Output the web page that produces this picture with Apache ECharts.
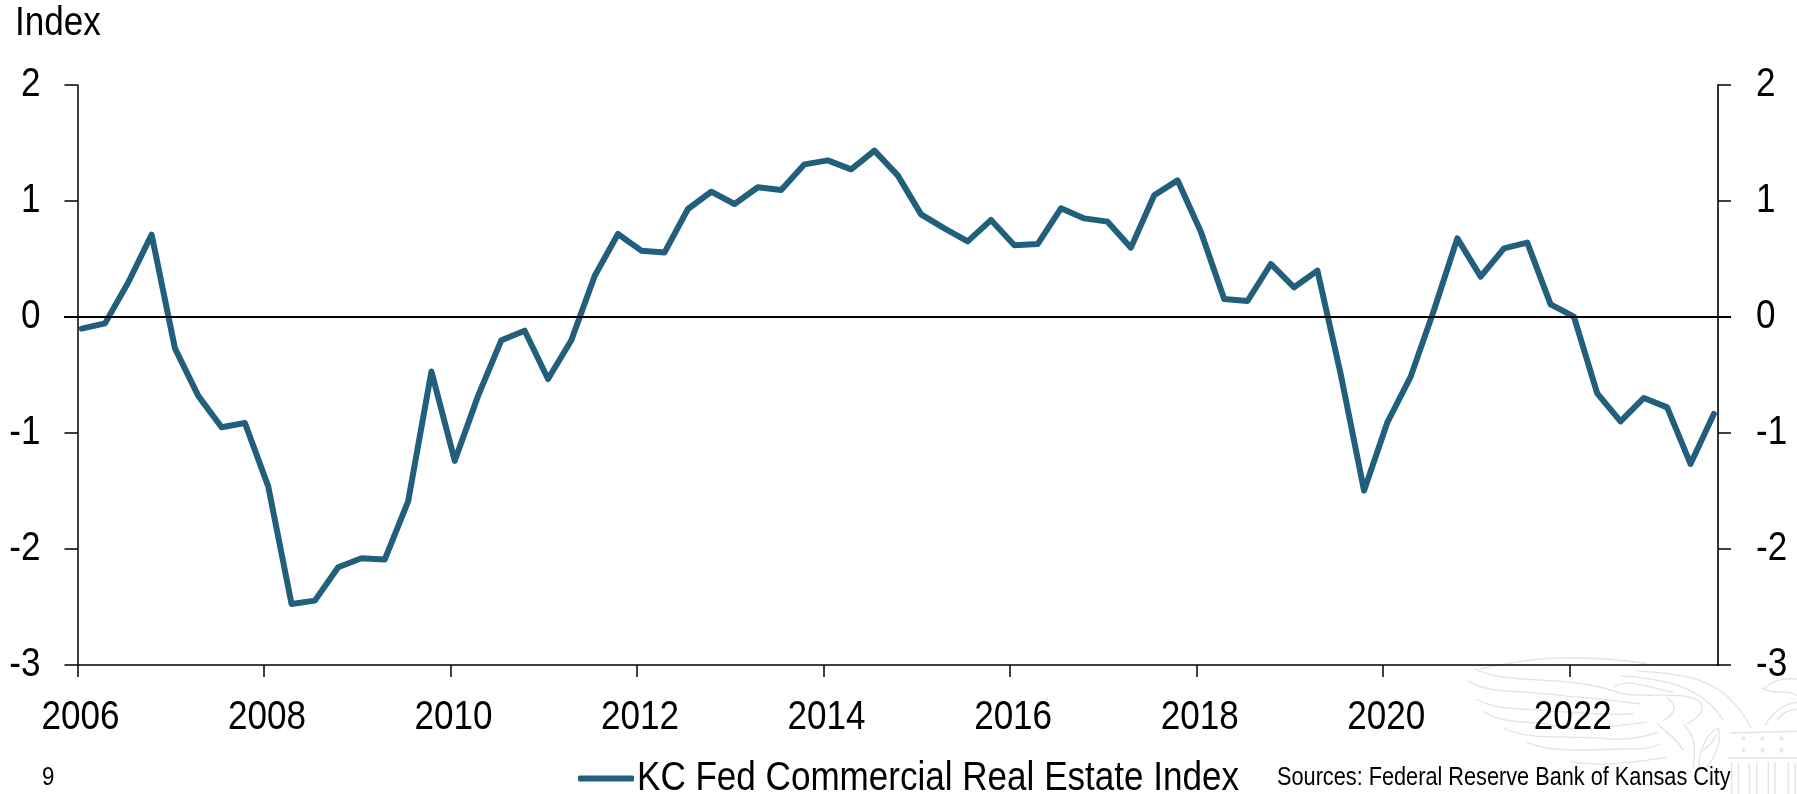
<!DOCTYPE html>
<html>
<head>
<meta charset="utf-8">
<style>html,body{margin:0;padding:0;background:#fff}#chart{width:1797px;height:794px}</style>
<script src="https://cdn.jsdelivr.net/npm/echarts@6/dist/echarts.min.js"></script>
</head>
<body>
<div id="chart"></div>
<script>
// Quarterly readings of the index, first quarter of 2006 onward
const startYear = 2006;
const indexValues = [
  -0.10, -0.055, 0.30, 0.71, -0.27, -0.68, -0.95, -0.914,
  -1.46, -2.474, -2.445, -2.158, -2.08, -2.09, -1.59, -0.47,
  -1.24, -0.68, -0.20, -0.118, -0.535, -0.20, 0.353, 0.716,
  0.572, 0.557, 0.931, 1.08, 0.974, 1.118, 1.095, 1.316,
  1.35, 1.273, 1.434, 1.221, 0.885, 0.764, 0.652, 0.836,
  0.618, 0.629, 0.937, 0.85, 0.822, 0.598, 1.049, 1.178,
  0.735, 0.155, 0.138, 0.457, 0.256, 0.40, -0.495, -1.497,
  -0.908, -0.514, 0.06, 0.678, 0.348, 0.592, 0.641, 0.109,
  0.003, -0.658, -0.90, -0.698, -0.779, -1.267, -0.836
];
const yearTicks = [2006, 2008, 2010, 2012, 2014, 2016, 2018, 2020, 2022];
const seriesName = 'KC Fed Commercial Real Estate Index';
const unitLabel = 'Index';
const sourceNote = 'Sources: Federal Reserve Bank of Kansas City';
const pageNumber = '9';

const font = '"Liberation Sans",Arial,sans-serif';
const ink = '#000';
const teal = '#215f7c';
// Horizontal squeeze that gives the sans face its condensed proportions
const textSqueeze = 0.855;

// Each reading sits about two weeks into its quarter on the year scale
const points = indexValues.map((v, i) => [startYear + i * 0.25 + 0.045, v]);

const yAxisBase = {
  type: 'value', min: -3, max: 2, interval: 1, splitLine: {show: false},
  axisLine: {show: true, onZero: false, lineStyle: {color: ink, width: 1.5}},
  axisTick: {show: true, length: 13, lineStyle: {color: ink, width: 1.5}}
};

// Faint engraved eagle and building in the lower right corner.
// Curves are [x1, y1, cpx1, cpy1, cpx2, cpy2, x2, y2] in the seal's own units.
const sealCurves = [
  [60, 45, 150, 25, 260, 10, 340, 12], [340, 12, 420, 12, 500, 20, 560, 28],
  [45, 45, 120, 85, 250, 70, 370, 90], [370, 90, 410, 95, 440, 105, 480, 115],
  [25, 80, 90, 125, 200, 105, 330, 128], [330, 128, 400, 130, 470, 140, 540, 150],
  [50, 135, 120, 175, 200, 160, 280, 172], [280, 172, 360, 175, 430, 185, 520, 180],
  [70, 172, 130, 210, 190, 200, 260, 210], [260, 210, 350, 240, 450, 215, 560, 205],
  [130, 222, 220, 265, 330, 240, 450, 255], [450, 255, 500, 258, 550, 250, 595, 235],
  [200, 265, 280, 300, 400, 285, 500, 285], [500, 285, 540, 285, 570, 285, 600, 270],
  [330, 322, 420, 340, 520, 325, 620, 310],
  [530, 50, 680, 62, 800, 70, 872, 222],
  [480, 65, 620, 75, 730, 100, 790, 200],
  [460, 100, 500, 70, 560, 100, 640, 115], [470, 115, 530, 130, 590, 120, 650, 125],
  [640, 125, 730, 120, 760, 170, 680, 210], [620, 130, 660, 160, 640, 180, 610, 200],
  [590, 205, 620, 240, 650, 250, 670, 290], [670, 210, 700, 240, 710, 270, 700, 340],
  [715, 340, 720, 290, 735, 240, 775, 222], [740, 340, 770, 300, 785, 260, 775, 222],
  [725, 290, 745, 280, 760, 265, 770, 240],
  [910, 110, 930, 80, 970, 70, 1011, 75], [905, 100, 950, 130, 980, 100, 1011, 125],
  [915, 215, 940, 170, 970, 150, 1011, 145], [950, 200, 970, 170, 990, 170, 1011, 165]
];
const sealRules = [
  [810, 237, 1011, 232], [805, 312, 1011, 312],
  [815, 325, 815, 420], [835, 325, 835, 420], [868, 325, 868, 420], [890, 325, 890, 420],
  [925, 325, 925, 420], [945, 325, 945, 420], [985, 325, 985, 420], [1005, 325, 1005, 420]
];
const sealStars = [[852, 258], [908, 258], [966, 258], [852, 293], [908, 293], [966, 293]];
const sealStroke = {stroke: '#e3e3e3', fill: null, lineWidth: 4};
const sealGroup = {
  type: 'group', x: 1460, y: 654, scaleX: 1 / 3, scaleY: 1 / 3, silent: true, z: -1,
  children: [
    ...sealCurves.map(c => ({
      type: 'bezierCurve', silent: true, style: sealStroke,
      shape: {x1: c[0], y1: c[1], cpx1: c[2], cpy1: c[3], cpx2: c[4], cpy2: c[5], x2: c[6], y2: c[7]}
    })),
    ...sealRules.map(r => ({
      type: 'line', silent: true, style: sealStroke,
      shape: {x1: r[0], y1: r[1], x2: r[2], y2: r[3]}
    })),
    ...sealStars.map(s => ({
      type: 'text', name: 'sealStar', silent: true, x: s[0] - 12, y: s[1] - 14,
      style: {text: '\u2605', fill: '#e3e3e3', font: '24px "DejaVu Sans"'}
    }))
  ]
};

const chart = echarts.init(document.getElementById('chart'));
chart.setOption({
  animation: false,
  backgroundColor: '#fff',
  textStyle: {fontFamily: font},
  grid: {left: 77.5, right: 79, top: 85, bottom: 129, containLabel: false},
  xAxis: {
    type: 'value', min: 2006, max: 2023.59, interval: 2,
    splitLine: {show: false},
    axisLine: {show: true, onZero: false, lineStyle: {color: ink, width: 1.5}},
    axisTick: {show: true, length: 12, customValues: yearTicks, lineStyle: {color: ink, width: 1.5}},
    axisLabel: {
      color: ink, fontSize: 41, fontFamily: font, margin: 32, padding: [0, 0, 0, 7],
      customValues: yearTicks, formatter: v => String(v)
    }
  },
  yAxis: [
    Object.assign({}, yAxisBase, {
      position: 'left',
      axisLabel: {color: ink, fontSize: 41, fontFamily: font, margin: 37}
    }),
    Object.assign({}, yAxisBase, {
      position: 'right',
      axisLine: {show: true, onZero: false, lineStyle: {color: '#333', width: 2}},
      axisLabel: {color: ink, fontSize: 41, fontFamily: font, margin: 38, align: 'left'}
    })
  ],
  legend: {
    show: true, left: 578, top: 758, padding: 0,
    itemWidth: 56, itemHeight: 6, itemGap: 0,
    data: [{name: seriesName, icon: 'roundRect'}],
    textStyle: {color: ink, fontSize: 41, fontFamily: font, padding: [0, 0, 0, 8]}
  },
  graphic: [
    sealGroup,
    {type: 'text', left: 15, top: 3, style: {text: unitLabel, fill: ink, font: '41px ' + font}},
    {type: 'text', left: 42, top: 765, style: {text: pageNumber, fill: ink, font: '26px ' + font}},
    {type: 'text', left: 1277, top: 765, style: {text: sourceNote, fill: ink, font: '25.4px ' + font}}
  ],
  series: [{
    name: seriesName, type: 'line', data: points, showSymbol: false, smooth: false,
    lineStyle: {color: teal, width: 6, cap: 'round', join: 'round'},
    itemStyle: {color: teal},
    markLine: {
      silent: true, symbol: 'none', animation: false,
      label: {show: false},
      lineStyle: {color: ink, width: 2, type: 'solid'},
      data: [[{xAxis: 2006, yAxis: 0, x: 64}, {xAxis: 2023.59, yAxis: 0, x: 1731}]]
    }
  }]
});

// No condensed face is available, so narrow every chart text around its anchor
chart.getZr().storage.traverse(el => {
  if (el.type === 'text' && el.name !== 'sealStar') {
    el.scaleX = textSqueeze;
    el.markRedraw();
  }
});
chart.getZr().refresh();
</script>
</body>
</html>
